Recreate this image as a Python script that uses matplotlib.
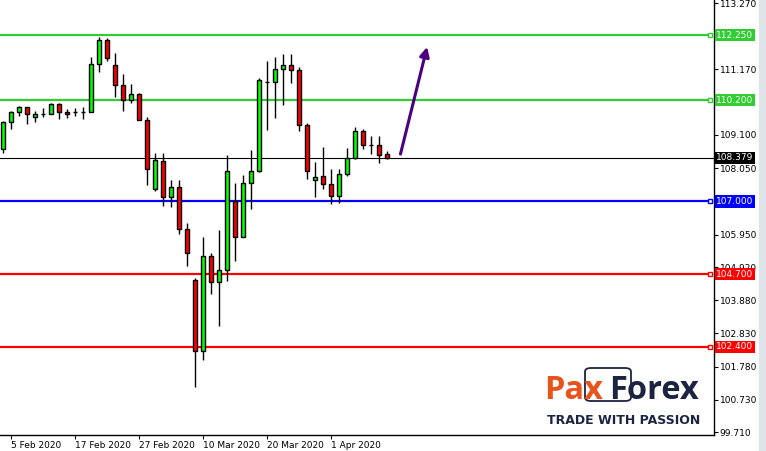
import matplotlib.pyplot as plt
from matplotlib.patches import Rectangle, FancyBboxPatch

plt.rcParams["font.family"] = "DejaVu Sans"
plt.rcParams["font.size"] = 6.5

# daily candles, 4 Feb 2020 .. 10 Apr 2020
opens = [108.65, 109.50, 109.82, 109.97, 109.66, 109.75, 109.75, 110.07, 109.82, 109.83,
         109.83, 109.82, 111.33, 112.09, 111.30, 110.67, 110.19, 110.38, 109.56, 107.38,
         108.29, 107.13, 107.46, 106.12, 104.51, 102.26, 105.26, 104.44, 104.82, 107.00,
         105.86, 107.57, 107.95, 110.77, 110.76, 111.17, 111.30, 111.14, 109.40, 107.67,
         107.79, 107.54, 107.16, 107.86, 108.36, 109.21, 108.77, 108.77, 108.49]
highs = [109.54, 109.86, 110.01, 109.99, 109.86, 109.96, 110.11, 110.10, 109.92, 109.94,
         109.97, 111.56, 112.20, 112.15, 111.69, 111.03, 110.71, 110.43, 109.66, 108.52,
         108.52, 107.68, 107.68, 106.31, 104.57, 105.87, 105.36, 106.10, 108.46, 107.57,
         107.82, 108.62, 110.89, 111.44, 111.56, 111.66, 111.66, 111.24, 109.47, 108.23,
         108.71, 108.01, 108.01, 108.68, 109.34, 109.28, 109.06, 109.06, 108.58]
lows = [108.54, 109.30, 109.71, 109.46, 109.52, 109.68, 109.75, 109.61, 109.65, 109.71,
        109.61, 109.82, 111.10, 111.44, 110.31, 109.87, 110.12, 109.56, 107.51, 107.34,
        106.86, 106.83, 105.96, 104.97, 101.14, 101.99, 104.08, 103.07, 104.49, 105.13,
        105.86, 106.75, 107.92, 109.26, 109.65, 110.04, 110.73, 109.22, 107.70, 107.13,
        107.40, 106.91, 106.94, 107.79, 108.33, 108.65, 108.49, 108.20, 108.33]
closes = [109.50, 109.82, 109.97, 109.75, 109.75, 109.75, 110.07, 109.82, 109.75, 109.83,
          109.83, 111.33, 112.09, 111.52, 110.67, 110.19, 110.38, 109.56, 108.01, 108.30,
          107.13, 107.46, 106.12, 105.36, 102.26, 105.26, 104.44, 104.82, 107.95, 105.86,
          107.57, 107.95, 110.83, 110.77, 111.17, 111.30, 111.14, 109.40, 107.95, 107.76,
          107.54, 107.16, 107.86, 108.36, 109.21, 108.77, 108.77, 108.46, 108.38]

date_ticks = [1, 9, 17, 25, 33, 41]
date_labels = ['5 Feb 2020', '17 Feb 2020', '27 Feb 2020', '10 Mar 2020', '20 Mar 2020', '1 Apr 2020']

price_ticks = [113.27, 112.22, 111.17, 110.12, 109.10, 108.05, 107.00, 105.95,
               104.92, 103.88, 102.83, 101.78, 100.73, 99.71]
hidden_ticks = [112.22, 110.12, 107.00]  # covered by the level boxes

levels = [112.25, 110.20, 107.00, 104.70, 102.40]
level_colors = ['#32cd32', '#32cd32', '#0000ff', '#ff0000', '#ff0000']
last_price = 108.379

arrow_start = (49.6, 108.41)
arrow_end = (53.1, 111.97)

fig = plt.figure(figsize=(7.66, 4.51), dpi=100)
ax = fig.add_axes([0, 16 / 451, 714 / 766, 435 / 451])
ax.set_xlim(-0.375, 88.875)
ax.set_ylim(99.616, 113.365)

for s in ['top', 'left']:
    ax.spines[s].set_visible(False)
ax.spines['right'].set_linewidth(1)
ax.spines['bottom'].set_linewidth(1)

# candles
x = list(range(len(opens)))
ax.vlines(x, lows, highs, color='black', lw=1, zorder=3)
bot = [min(o, c) for o, c in zip(opens, closes)]
hgt = [abs(c - o) for o, c in zip(opens, closes)]
cols = ['#00ff00' if c > o else ('#ff0000' if c < o else 'black') for o, c in zip(opens, closes)]
ax.bar(x, hgt, bottom=bot, width=0.62, color=cols, edgecolor='black', linewidth=1, zorder=4)

# levels
ax.axhline(last_price, color='black', lw=0.8, zorder=2)
for lv, col in zip(levels, level_colors):
    ax.plot([-0.375, 88.4], [lv, lv], color=col, lw=1.6, zorder=2)
    ax.plot([88.4], [lv], marker='s', ms=3.5, mfc='white', mec=col, mew=1, clip_on=False, zorder=5)
    ax.text(1.003, lv, '%.3f' % lv, transform=ax.get_yaxis_transform(), color='white',
            ha='left', va='center', fontsize=6.5, zorder=6,
            bbox=dict(boxstyle='square,pad=0.18', fc=col, ec='none'))
ax.text(1.003, last_price, '%.3f' % last_price, transform=ax.get_yaxis_transform(), color='white',
        ha='left', va='center', fontsize=6.5, zorder=6,
        bbox=dict(boxstyle='square,pad=0.18', fc='black', ec='none'))

ax.annotate('', xy=arrow_end, xytext=arrow_start,
            arrowprops=dict(arrowstyle='-|>', color='#4b0082', lw=2.2, mutation_scale=14))

ax.yaxis.tick_right()
ax.set_yticks(price_ticks)
ax.set_yticklabels(['' if v in hidden_ticks else '%.3f' % v for v in price_ticks])
ax.tick_params(axis='y', length=3, pad=1, labelsize=6.5)
ax.set_xticks(date_ticks)
ax.set_xticklabels(date_labels, ha='left')
ax.tick_params(axis='x', length=3, pad=1.5, labelsize=6.5)

# logo
W, H = 766.0, 451.0
fig.text(544 / W, 1 - 399 / H, 'Pax', color='#e8541c', fontsize=23.5, fontweight='bold',
         family='Open Sans', va='baseline', ha='left')
fig.text(609 / W, 1 - 399 / H, 'Forex', color='#1c2442', fontsize=23.5, fontweight='bold',
         family='Open Sans', va='baseline', ha='left')
fig.patches.append(FancyBboxPatch((585 / W, 1 - 401 / H), 46 / W, 33 / H, boxstyle='round,pad=0,rounding_size=0.008',
                                  transform=fig.transFigure, fill=False, ec='#1c2442', lw=1.3))
fig.text(624 / W, 1 - 424 / H, 'TRADE WITH PASSION', color='#1c2442', fontsize=9, fontweight='bold',
         va='baseline', ha='center')

# scrollbar strip
fig.patches.append(Rectangle((759 / W, 0), 7 / W, 1, transform=fig.transFigure, fc='#dfe4eb', ec='none'))

plt.savefig('out.png', dpi=100)
